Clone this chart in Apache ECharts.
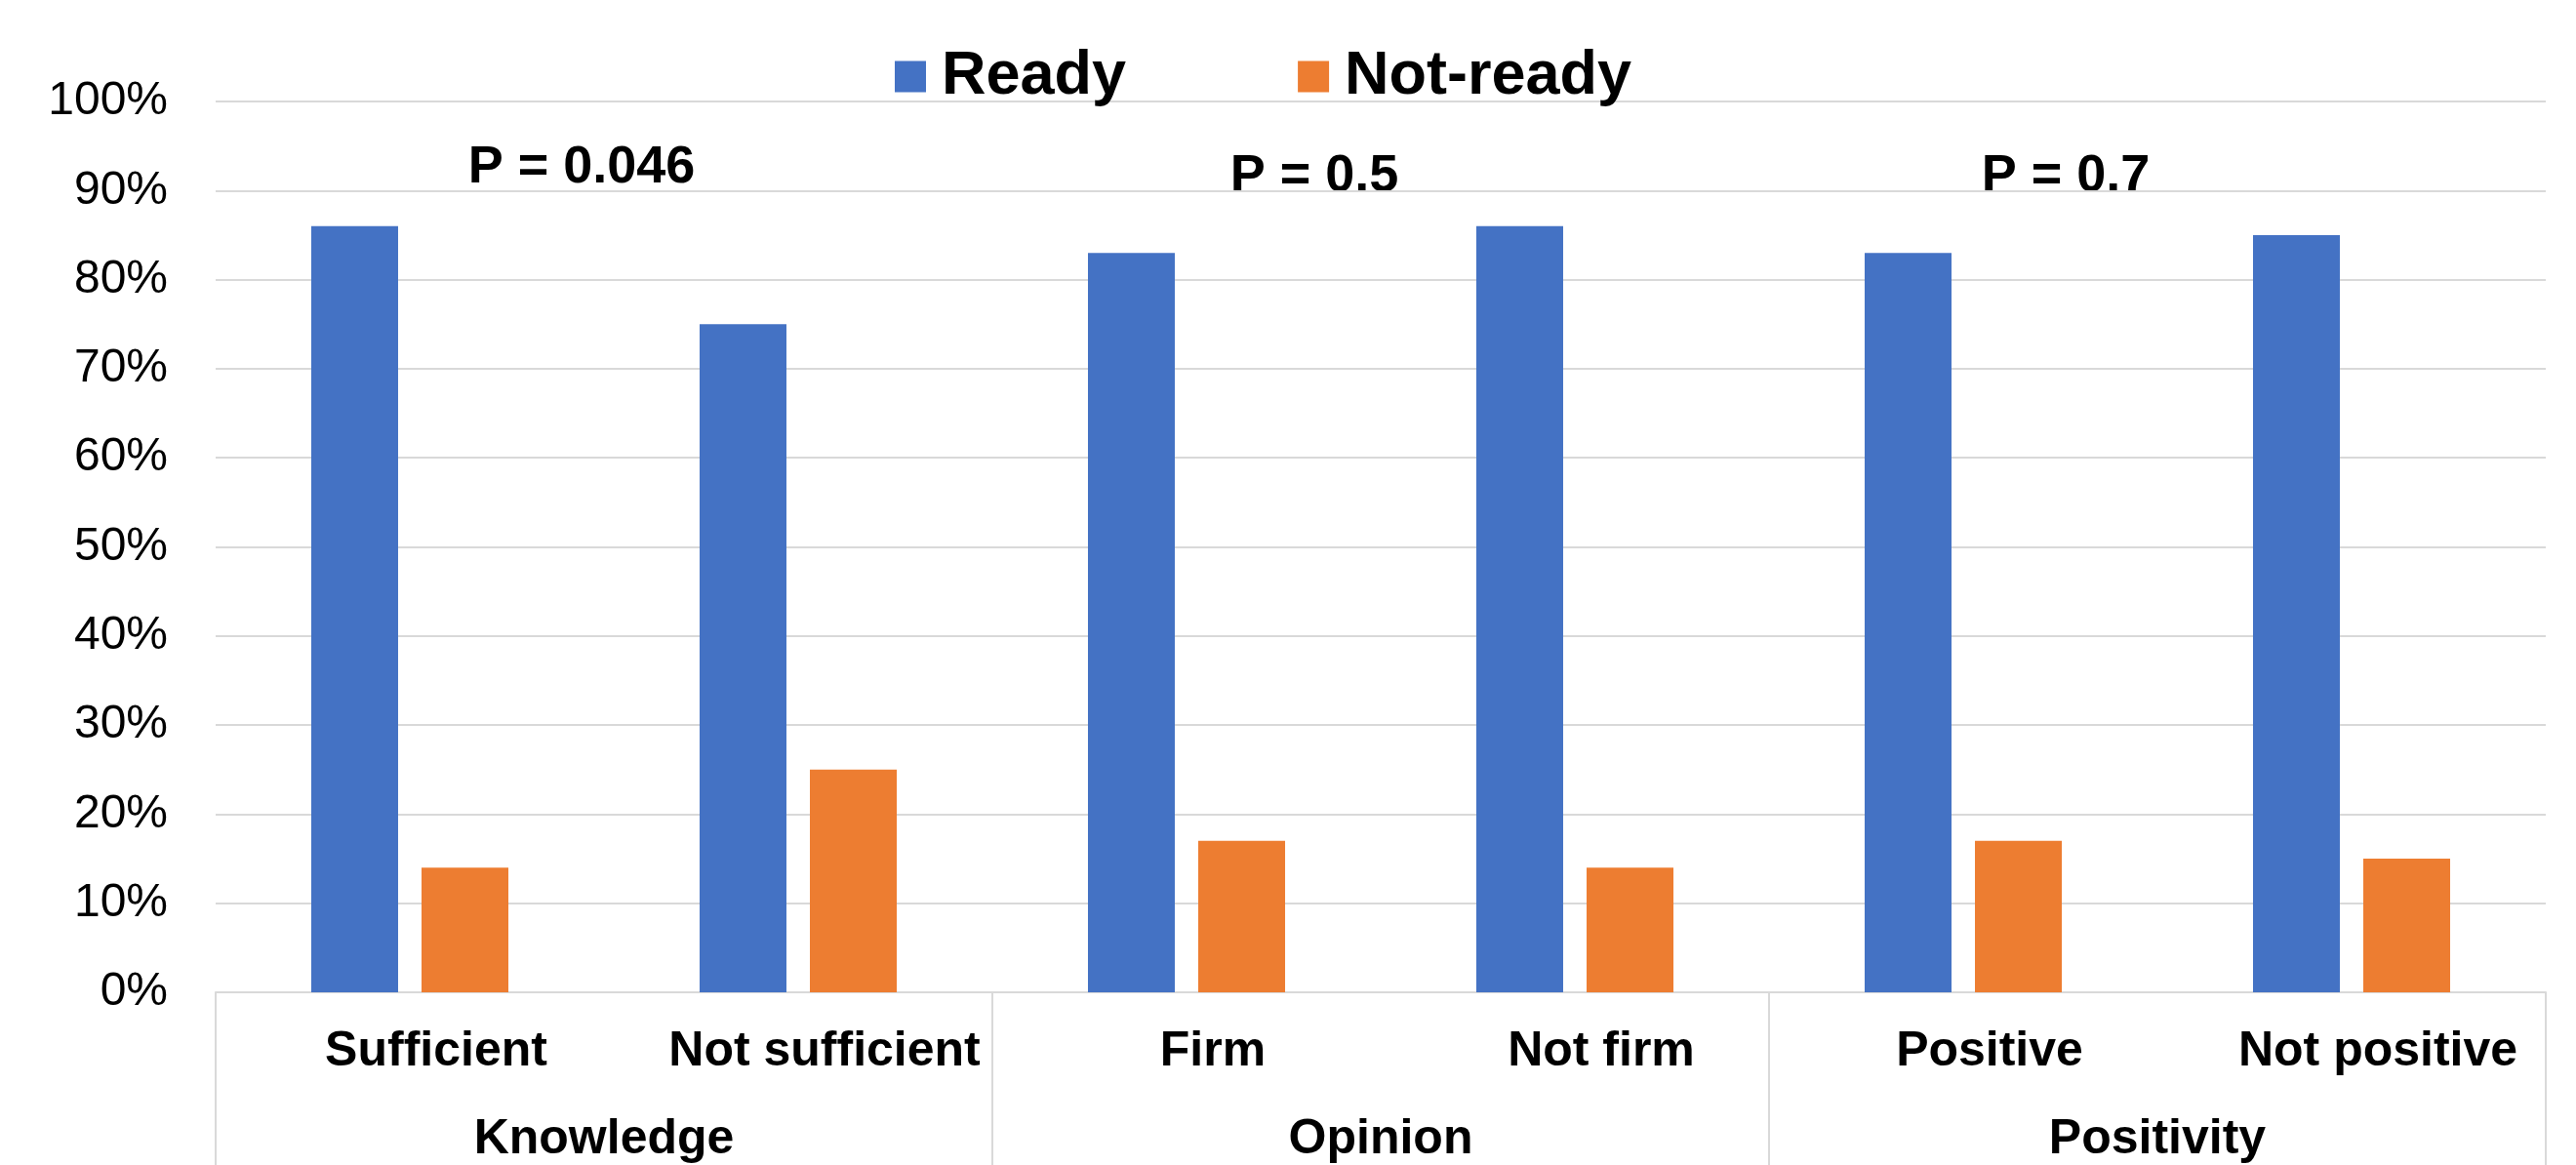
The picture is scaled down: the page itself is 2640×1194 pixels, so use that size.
<!DOCTYPE html>
<html>
<head>
<meta charset="utf-8">
<title>Readiness by knowledge, opinion and positivity</title>
<script src="https://cdn.jsdelivr.net/npm/echarts@6/dist/echarts.min.js"></script>
<style>
  html, body { margin: 0; padding: 0; background: #ffffff; }
  #chart { width: 2640px; height: 1194px; }
</style>
</head>
<body>
<div id="chart"></div>
<script>
// Outer grouping on the category axis
const groups = ['Knowledge', 'Opinion', 'Positivity'];
// Inner categories, two per group
const categories = ['Sufficient', 'Not sufficient', 'Firm', 'Not firm', 'Positive', 'Not positive'];
// Share of respondents (%)
const ready = [86, 75, 83, 86, 83, 85];
const notReady = [14, 25, 17, 14, 17, 15];
// Significance annotation per group
const pValues = ['P = 0.046', 'P = 0.5', 'P = 0.7'];
// Y axis ticks
const yTicks = { min: 0, max: 100, step: 10 };

const FONT = "'Liberation Sans', Arial, sans-serif";
const GRID = { left: 221, right: 31, top: 104, bottom: 177 };
const pPos = [[596, 172], [1347, 181], [2117, 181]];

const chart = echarts.init(document.getElementById('chart'), null, { renderer: 'canvas' });

chart.setOption({
  backgroundColor: '#ffffff',
  animation: false,
  textStyle: { fontFamily: FONT },
  legend: {
    data: ['Ready', 'Not-ready'],
    left: 912,
    top: 42,
    icon: 'rect',
    itemWidth: 32,
    itemHeight: 32,
    itemGap: 176,
    textStyle: { fontSize: 63, fontWeight: 'bold', color: '#000000', fontFamily: FONT, padding: [0, 0, 0, 11] }
  },
  grid: { left: GRID.left, right: GRID.right, top: GRID.top, bottom: GRID.bottom, containLabel: false },
  xAxis: [
    {
      type: 'category',
      data: categories,
      axisLine: { show: true, lineStyle: { color: '#d9d9d9', width: 2 } },
      axisTick: { show: false },
      axisLabel: {
        interval: 0, margin: 36, fontSize: 50, fontWeight: 'bold', color: '#000000', fontFamily: FONT,
        padding: [0, 0, 0, 54]
      },
      splitLine: { show: false }
    },
    {
      type: 'category',
      data: groups,
      position: 'bottom',
      axisLine: { show: false },
      axisTick: { show: true, length: 177, lineStyle: { color: '#d9d9d9', width: 2 } },
      axisLabel: { interval: 0, margin: 126, fontSize: 50, fontWeight: 'bold', color: '#000000', fontFamily: FONT },
      splitLine: { show: false }
    }
  ],
  yAxis: {
    type: 'value',
    min: yTicks.min,
    max: yTicks.max,
    interval: yTicks.step,
    axisLine: { show: false },
    axisTick: { show: false },
    axisLabel: { formatter: '{value}%', fontSize: 48, color: '#000000', margin: 49, fontFamily: FONT },
    splitLine: { lineStyle: { color: '#d9d9d9', width: 2 } }
  },
  series: [
    {
      name: 'Ready',
      type: 'bar',
      xAxisIndex: 0,
      data: ready,
      barWidth: 89,
      barGap: '27%',
      itemStyle: { color: '#4472C4' }
    },
    {
      name: 'Not-ready',
      type: 'bar',
      xAxisIndex: 0,
      data: notReady,
      barWidth: 89,
      barGap: '27%',
      itemStyle: { color: '#ED7D31' }
    }
  ],
  graphic: pValues.map((t, i) => ({
    type: 'text',
    z: -1,
    x: pPos[i][0],
    y: pPos[i][1],
    style: {
      text: t,
      fontSize: 54,
      fontWeight: 'bold',
      fontFamily: FONT,
      fill: '#000000',
      align: 'center',
      verticalAlign: 'middle'
    }
  }))
});
</script>
</body>
</html>
